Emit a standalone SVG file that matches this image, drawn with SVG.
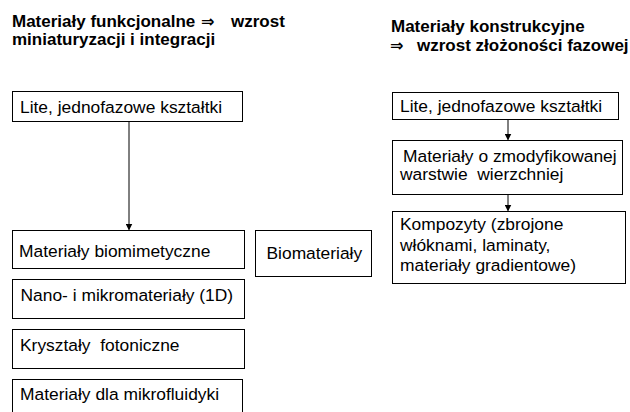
<svg xmlns="http://www.w3.org/2000/svg" width="630" height="412" viewBox="0 0 630 412">
<style>
text{font-family:"Liberation Sans",Arial,sans-serif;font-size:17.4px;fill:#000}
.t{font-weight:bold;font-size:17px}
.ar{font-family:"DejaVu Sans","Liberation Sans",sans-serif;font-weight:bold;font-size:16px}
rect{fill:#fff;stroke:#000;stroke-width:1}
.c{stroke:#000;stroke-width:1;fill:none}
</style>
<defs>
<marker id="ah" markerWidth="7" markerHeight="7" refX="6" refY="3.5" orient="auto" markerUnits="userSpaceOnUse">
<path d="M0,0 L7,3.5 L0,7 Z" fill="#000"/>
</marker>
</defs>
<rect x="0" y="0" width="630" height="412" style="fill:#fff;stroke:none"/>
<g id="title-left">
<text class="t" x="12" y="27">Materiały funkcjonalne</text>
<text class="t ar" x="201" y="27">⇒</text>
<text class="t" x="231" y="27">wzrost</text>
<text class="t" x="12" y="45">miniaturyzacji i integracji</text>
</g>
<g id="title-right">
<text class="t" x="391" y="31.5">Materiały konstrukcyjne</text>
<text class="t ar" x="390" y="50.5">⇒</text>
<text class="t" x="417" y="50.5">wzrost złożoności fazowej</text>
</g>
<g id="connectors">
<line class="c" x1="129" y1="121" x2="129" y2="229.5" marker-end="url(#ah)"/>
<line class="c" x1="508" y1="119" x2="508" y2="139.5" marker-end="url(#ah)"/>
<line class="c" x1="508" y1="194" x2="508" y2="210.5" marker-end="url(#ah)"/>
</g>
<g id="n-lite-left">
<rect x="12.5" y="91.5" width="230" height="30"/>
<text x="20" y="112.5">Lite, jednofazowe kształtki</text>
</g>
<g id="n-biomim">
<rect x="12.5" y="230.5" width="232" height="38"/>
<text x="19" y="256.5">Materiały biomimetyczne</text>
</g>
<g id="n-biomat">
<rect x="255.5" y="230.5" width="116" height="46"/>
<text x="266.5" y="259">Biomateriały</text>
</g>
<g id="n-nano">
<rect x="12.5" y="279.5" width="232" height="39"/>
<text x="20.5" y="301">Nano- i mikromateriały (1D)</text>
</g>
<g id="n-kryszt">
<rect x="12.5" y="329.5" width="232" height="39"/>
<text x="20" y="351" xml:space="preserve">Kryształy  fotoniczne</text>
</g>
<g id="n-mikro">
<rect x="12.5" y="379.5" width="230" height="40"/>
<text x="20" y="400">Materiały dla mikrofluidyki</text>
</g>
<g id="n-lite-right">
<rect x="392.5" y="92.5" width="226" height="27"/>
<text x="400" y="111.5">Lite, jednofazowe kształtki</text>
</g>
<g id="n-warstwa">
<rect x="392.5" y="140.5" width="230" height="54"/>
<text x="403" y="161.5">Materiały o zmodyfikowanej</text>
<text x="400" y="180" xml:space="preserve">warstwie  wierzchniej</text>
</g>
<g id="n-kompozyty">
<rect x="392.5" y="211.5" width="233" height="72"/>
<text x="400" y="230">Kompozyty (zbrojone</text>
<text x="400" y="250.5">włóknami, laminaty,</text>
<text x="400" y="271">materiały gradientowe)</text>
</g>
</svg>
